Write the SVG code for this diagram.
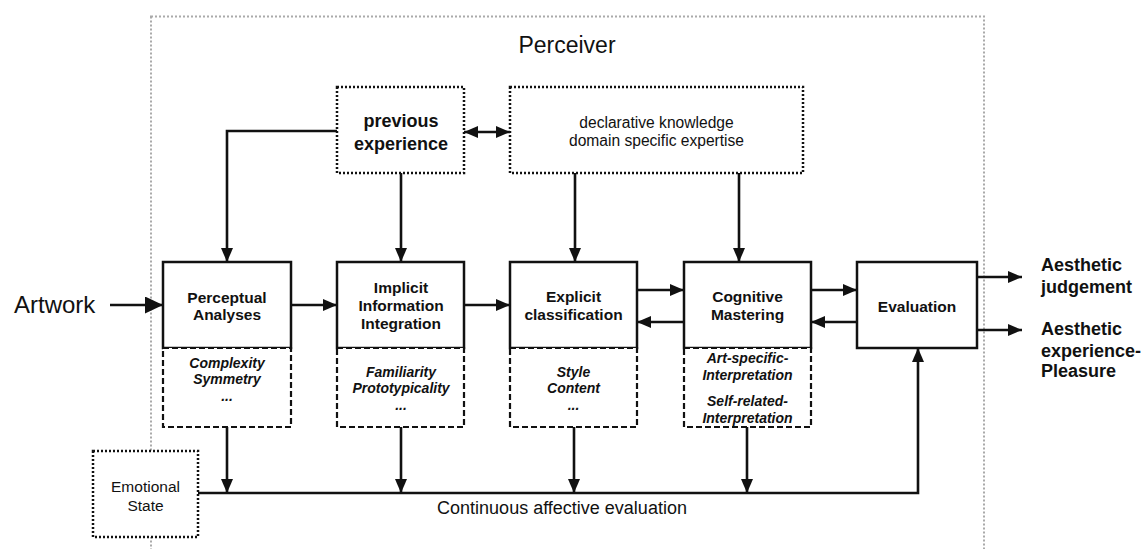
<svg xmlns="http://www.w3.org/2000/svg" width="1147" height="549" viewBox="0 0 1147 549">
<style>
text{font-family:"Liberation Sans",Arial,Helvetica,sans-serif;fill:#111}
.box{fill:#fff;stroke:#111;stroke-width:2.5}
.dash{fill:#fff;stroke:#111;stroke-width:2.2;stroke-dasharray:6 3}
.dot{fill:#fff;stroke:#111;stroke-width:2.5;stroke-dasharray:2 2}
.outer{fill:none;stroke:#aaa;stroke-width:2;stroke-dasharray:2 2}
.ln{fill:none;stroke:#111;stroke-width:2.6}
.b{font-weight:bold;font-size:15.5px}
.bi{font-weight:bold;font-style:italic;font-size:14px}
.big{font-weight:bold;font-size:18px}
</style>
<defs>
<marker id="ah" viewBox="0 0 14 12" refX="14" refY="6" markerWidth="14" markerHeight="12" markerUnits="userSpaceOnUse" orient="auto-start-reverse"><path d="M0,0 L14,6 L0,12 z" fill="#111"/></marker>
<marker id="ahb" viewBox="0 0 18 17" refX="18" refY="8.5" markerWidth="18" markerHeight="17" markerUnits="userSpaceOnUse" orient="auto"><path d="M0,0 L18,8.5 L0,17 z" fill="#111"/></marker>
</defs>
<rect width="1147" height="549" fill="#fff"/>
<g id="perceiver">
<rect class="outer" x="151" y="16.5" width="833" height="600"/>
<text x="567" y="53" font-size="23" text-anchor="middle">Perceiver</text>
</g>
<g id="connectors">
<path class="ln" d="M337,131 H227 V262" marker-end="url(#ah)"/>
<path class="ln" d="M401,173 V262" marker-end="url(#ah)"/>
<path class="ln" d="M575,173 V262" marker-end="url(#ah)"/>
<path class="ln" d="M739,173 V262" marker-end="url(#ah)"/>
<path class="ln" d="M464,132 H510" marker-start="url(#ah)" marker-end="url(#ah)"/>
<path class="ln" d="M110,305 H163" marker-end="url(#ahb)"/>
<path class="ln" d="M291,305 H337" marker-end="url(#ah)"/>
<path class="ln" d="M464,305 H510" marker-end="url(#ah)"/>
<path class="ln" d="M637,290 H684" marker-end="url(#ah)"/>
<path class="ln" d="M684,322 H637" marker-end="url(#ah)"/>
<path class="ln" d="M811,290 H857" marker-end="url(#ah)"/>
<path class="ln" d="M857,322 H811" marker-end="url(#ah)"/>
<path class="ln" d="M977,277 H1022" marker-end="url(#ah)"/>
<path class="ln" d="M977,330 H1022" marker-end="url(#ah)"/>
<path class="ln" d="M227,427 V493" marker-end="url(#ah)"/>
<path class="ln" d="M401,427 V493" marker-end="url(#ah)"/>
<path class="ln" d="M574,427 V493" marker-end="url(#ah)"/>
<path class="ln" d="M747,427 V493" marker-end="url(#ah)"/>
<path class="ln" d="M198,493 H918 V348" marker-end="url(#ah)"/>
<text x="562" y="514" font-size="18" text-anchor="middle">Continuous affective evaluation</text>
</g>
<g id="artwork">
<text x="14" y="313" font-size="24">Artwork</text>
</g>
<g id="previous-experience">
<rect class="dot" x="337" y="87" width="127" height="86"/>
<text class="big" x="401" y="127" text-anchor="middle">previous</text>
<text class="big" x="401" y="150" text-anchor="middle">experience</text>
</g>
<g id="declarative-knowledge">
<rect class="dot" x="510" y="87" width="293" height="86"/>
<text x="656.5" y="128" font-size="15.6" text-anchor="middle">declarative knowledge</text>
<text x="656.5" y="146" font-size="15.6" text-anchor="middle">domain specific expertise</text>
</g>
<g id="perceptual-analyses">
<rect class="box" x="163" y="262" width="128" height="86"/>
<text class="b" x="227" y="303" text-anchor="middle">Perceptual</text>
<text class="b" x="227" y="320" text-anchor="middle">Analyses</text>
<rect class="dash" x="163" y="348" width="128" height="79"/>
<text class="bi" x="227" y="368" text-anchor="middle">Complexity</text>
<text class="bi" x="227" y="384" text-anchor="middle">Symmetry</text>
<text class="bi" x="227" y="401" text-anchor="middle">...</text>
</g>
<g id="implicit-integration">
<rect class="box" x="337" y="262" width="127" height="86"/>
<text class="b" x="401" y="293" text-anchor="middle">Implicit</text>
<text class="b" x="401" y="311" text-anchor="middle">Information</text>
<text class="b" x="401" y="329" text-anchor="middle">Integration</text>
<rect class="dash" x="337" y="348" width="127" height="79"/>
<text class="bi" x="401" y="377" text-anchor="middle">Familiarity</text>
<text class="bi" x="401" y="393" text-anchor="middle">Prototypicality</text>
<text class="bi" x="401" y="410" text-anchor="middle">...</text>
</g>
<g id="explicit-classification">
<rect class="box" x="510" y="262" width="127" height="86"/>
<text class="b" x="573.5" y="302" text-anchor="middle">Explicit</text>
<text class="b" x="573.5" y="320" text-anchor="middle">classification</text>
<rect class="dash" x="510" y="348" width="127" height="79"/>
<text class="bi" x="573.5" y="377" text-anchor="middle">Style</text>
<text class="bi" x="573.5" y="393" text-anchor="middle">Content</text>
<text class="bi" x="573.5" y="410" text-anchor="middle">...</text>
</g>
<g id="cognitive-mastering">
<rect class="box" x="684" y="262" width="127" height="86"/>
<text class="b" x="747.5" y="302" text-anchor="middle">Cognitive</text>
<text class="b" x="747.5" y="320" text-anchor="middle">Mastering</text>
<rect class="dash" x="684" y="348" width="127" height="79"/>
<text class="bi" x="747.5" y="363" text-anchor="middle">Art-specific-</text>
<text class="bi" x="747.5" y="380" text-anchor="middle">Interpretation</text>
<text class="bi" x="747.5" y="406" text-anchor="middle">Self-related-</text>
<text class="bi" x="747.5" y="423" text-anchor="middle">Interpretation</text>
</g>
<g id="evaluation">
<rect class="box" x="857" y="262" width="120" height="86"/>
<text class="b" x="917" y="312" text-anchor="middle">Evaluation</text>
</g>
<g id="emotional-state">
<rect class="dot" x="93" y="451" width="105" height="86"/>
<text x="145.5" y="492" font-size="15.5" text-anchor="middle">Emotional</text>
<text x="145.5" y="511" font-size="15.5" text-anchor="middle">State</text>
</g>
<g id="outputs">
<text class="big" x="1041" y="271">Aesthetic</text>
<text class="big" x="1041" y="293">judgement</text>
<text class="big" x="1041" y="335">Aesthetic</text>
<text class="big" x="1041" y="356.5">experience-</text>
<text class="big" x="1041" y="377">Pleasure</text>
</g>
</svg>
